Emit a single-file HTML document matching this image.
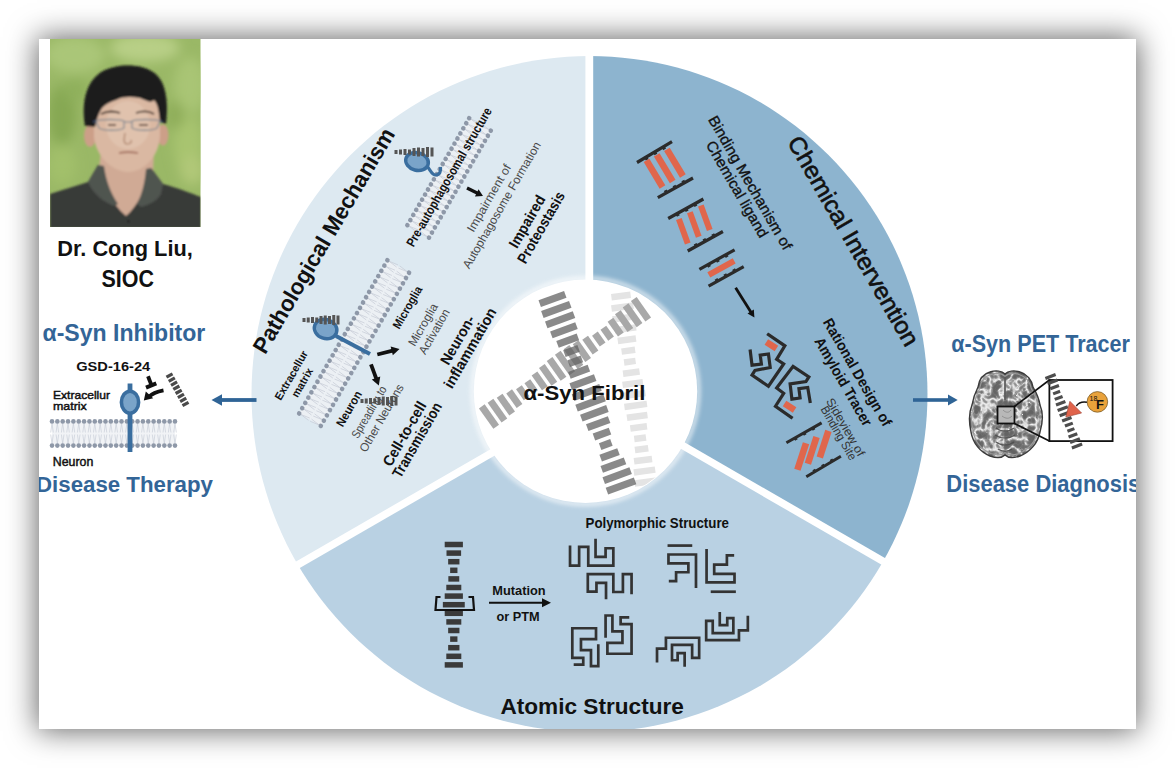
<!DOCTYPE html>
<html><head><meta charset="utf-8">
<style>
html,body{margin:0;padding:0;background:#fff;width:1175px;height:768px;overflow:hidden;}
#card{position:absolute;left:39px;top:39px;width:1097px;height:690px;background:#fff;box-shadow:0 0 28px 2px rgba(0,0,0,0.6);}
svg{position:absolute;left:0;top:0;}
text{font-family:"Liberation Sans",sans-serif;}
</style></head><body>
<div id="card"></div>
<svg width="1175" height="768" viewBox="0 0 1175 768">
<defs>
<clipPath id="cardclip"><rect x="39" y="39" width="1097" height="690"/></clipPath>
<clipPath id="phclip"><rect x="50" y="39" width="150.5" height="188"/></clipPath>
<clipPath id="innerclip"><circle cx="585.5" cy="391.3" r="111"/></clipPath>
<filter id="bok" x="-50%" y="-50%" width="200%" height="200%"><feGaussianBlur stdDeviation="6"/></filter>
<filter id="soft" x="-10%" y="-10%" width="120%" height="120%"><feGaussianBlur stdDeviation="0.9"/></filter>
<filter id="halo" x="-20%" y="-20%" width="140%" height="140%"><feGaussianBlur stdDeviation="2"/></filter>
<filter id="bsoft" x="-10%" y="-10%" width="120%" height="120%"><feGaussianBlur stdDeviation="0.5"/></filter>
<marker id="ahb" viewBox="0 0 10 10" refX="5" refY="5" markerWidth="4" markerHeight="4" orient="auto"><path d="M0,0 L10,5 L0,10 z" fill="#111"/></marker>
</defs>
<g clip-path="url(#cardclip)">
<g id="wheel">
<path d="M589.5,394 L296.8,563 A338,338 0 0 1 589.5,56 Z" fill="#dde9f1"/>
<path d="M589.5,394 L589.5,56 A338,338 0 0 1 882.2,563 Z" fill="#8db4cf"/>
<path d="M589.5,394 L882.2,563 A338,338 0 0 1 296.8,563 Z" fill="#b9d1e3"/>
<line x1="589.3" y1="394" x2="589.3" y2="40" stroke="#fff" stroke-width="7.8"/>
<line x1="593.6" y1="394.1" x2="906" y2="574.5" stroke="#fff" stroke-width="7.5"/>
<line x1="593.6" y1="394.1" x2="281" y2="574.5" stroke="#fff" stroke-width="7.5"/>
<circle cx="585.5" cy="391.3" r="113" fill="none" stroke="#fff" stroke-width="4" opacity="0.7" filter="url(#halo)"/>
<circle cx="585.5" cy="391.3" r="111.7" fill="#fff"/>
</g>
<g id="photo">
<g clip-path="url(#phclip)">
<rect x="50" y="39" width="151" height="188" fill="#9ab866"/>
<g filter="url(#bok)">
<ellipse cx="75" cy="55" rx="30" ry="18" fill="#aac678"/>
<ellipse cx="145" cy="48" rx="35" ry="14" fill="#b8cf86"/>
<ellipse cx="190" cy="85" rx="16" ry="28" fill="#a9c574"/>
<ellipse cx="62" cy="115" rx="14" ry="30" fill="#86a853"/>
<ellipse cx="188" cy="145" rx="14" ry="30" fill="#a8c470"/>
<ellipse cx="62" cy="165" rx="14" ry="20" fill="#a2c06a"/>
<ellipse cx="192" cy="170" rx="12" ry="15" fill="#b1c878"/>
<ellipse cx="75" cy="90" rx="12" ry="12" fill="#8fb05b"/>
<ellipse cx="175" cy="115" rx="10" ry="14" fill="#8fae5a"/>
</g>
<g filter="url(#soft)">
<!-- neck -->
<path d="M101,150 L154,150 L153,175 C148,195 136,214 126,219 C114,207 104,192 99,170 Z" fill="#d0aa95"/>
<!-- shirt -->
<path d="M50,194 C62,190 76,186 88,182 L98,165 C102,185 112,204 126,216 C138,206 146,188 151,168 L163,184 C178,188 190,193 201,197 L201,228 L50,228 Z" fill="#383a38"/>
<!-- collar -->
<path d="M98,165 L104,166 C106,180 110,192 118,204 L114,206 C106,203 98,198 91,188 L88,182 Z" fill="#505450"/>
<path d="M151,168 L146,169 C145,182 142,194 137,204 L141,207 C150,205 158,200 161,194 L163,184 Z" fill="#505450"/>
<circle cx="128.4" cy="221.3" r="1.3" fill="#222"/>
<!-- ears -->
<ellipse cx="90" cy="136" rx="6" ry="11" fill="#cc9f88"/>
<ellipse cx="163" cy="135" rx="5.5" ry="10.5" fill="#cc9f88"/>
<!-- face -->
<path d="M94,104 C94,90 110,86 128,86 C146,86 160,92 160,108 L160,136 C159,155 146,171 128,172 C111,171 96,156 94,137 Z" fill="#dab8a2"/>
<ellipse cx="128" cy="125" rx="22" ry="24" fill="#e3c6b2" opacity="0.7"/>
<!-- hair -->
<path d="M85,126 C81,100 87,80 103,71 C116,64 140,63 153,72 C165,80 169,98 166,124 L160,122 C159,112 158,104 154,100 C150,104 146,100 140,98 C132,97 124,96 116,100 C110,102 106,104 102,108 C99,113 97,118 95,127 Z" fill="#1c1c1c"/>
<!-- eyebrows -->
<path d="M101,114 C107,111 114,111 120,113" stroke="#3a2c24" stroke-width="1.8" fill="none"/>
<path d="M136,113 C142,111 149,111 154,114" stroke="#3a2c24" stroke-width="1.8" fill="none"/>
<!-- glasses -->
<path d="M96,121 C100,119 120,119 124,121 L124,128 C120,131 103,131 99,128 Z" fill="none" stroke="#888c92" stroke-width="1.3"/>
<path d="M132,121 C136,119 156,119 160,121 L157,128 C153,131 136,131 132,128 Z" fill="none" stroke="#888c92" stroke-width="1.3"/>
<path d="M124,122 L132,122" stroke="#888c92" stroke-width="1.2"/>
<path d="M93,122 L96,121 M160,121 L163,122" stroke="#3c4a6a" stroke-width="1.6"/>
<path d="M108,125 L116,125 M139,125 L148,125" stroke="#4a3528" stroke-width="1.5"/>
<!-- nose mouth -->
<path d="M125,133 C124,140 123,143 127,144 C130,144 132,143 131,140" stroke="#a97e66" stroke-width="1.2" fill="none"/>
<path d="M119,153 C124,152 132,152 138,153" stroke="#a06a5a" stroke-width="1.7" fill="none"/>
</g>
</g>
</g>
<g clip-path="url(#innerclip)"><g fill="#e4e4e4" opacity="1.0" ><rect x="-3.25" y="-9.68" width="6.5" height="19.35" transform="translate(621 296) rotate(82.34)"/><rect x="-3.25" y="-11.09" width="6.5" height="22.18" transform="translate(622.47 306.94) rotate(82.34)"/><rect x="-3.25" y="-11.49" width="6.5" height="22.98" transform="translate(623.94 317.88) rotate(82.34)"/><rect x="-3.25" y="-10.81" width="6.5" height="21.63" transform="translate(625.41 328.82) rotate(82.34)"/><rect x="-3.25" y="-9.17" width="6.5" height="18.34" transform="translate(626.88 339.76) rotate(82.34)"/><rect x="-3.25" y="-6.83" width="6.5" height="13.66" transform="translate(628.35 350.71) rotate(82.34)"/><rect x="-3.25" y="-5.81" width="6.5" height="11.62" transform="translate(629.82 361.65) rotate(82.34)"/><rect x="-3.25" y="-8.32" width="6.5" height="16.64" transform="translate(631.29 372.59) rotate(82.34)"/><rect x="-3.25" y="-10.27" width="6.5" height="20.55" transform="translate(632.76 383.53) rotate(82.34)"/><rect x="-3.25" y="-11.35" width="6.5" height="22.7" transform="translate(634.24 394.47) rotate(82.34)"/><rect x="-3.25" y="-11.37" width="6.5" height="22.75" transform="translate(635.71 405.41) rotate(82.34)"/><rect x="-3.25" y="-10.34" width="6.5" height="20.67" transform="translate(637.18 416.35) rotate(82.34)"/><rect x="-3.25" y="-8.41" width="6.5" height="16.82" transform="translate(638.65 427.29) rotate(82.34)"/><rect x="-3.25" y="-5.92" width="6.5" height="11.84" transform="translate(640.12 438.24) rotate(82.34)"/><rect x="-3.25" y="-6.73" width="6.5" height="13.45" transform="translate(641.59 449.18) rotate(82.34)"/><rect x="-3.25" y="-9.09" width="6.5" height="18.17" transform="translate(643.06 460.12) rotate(82.34)"/><rect x="-3.25" y="-10.76" width="6.5" height="21.53" transform="translate(644.53 471.06) rotate(82.34)"/><rect x="-3.25" y="-11.48" width="6.5" height="22.97" transform="translate(646 482) rotate(82.34)"/></g><g fill="#a8a8a8" opacity="1.0" ><rect x="-3.5" y="-12.5" width="7" height="25" transform="translate(489 416.6) rotate(-35.22)"/><rect x="-3.5" y="-12.08" width="7" height="24.16" transform="translate(497.44 410.64) rotate(-35.22)"/><rect x="-3.5" y="-10.86" width="7" height="21.72" transform="translate(505.89 404.68) rotate(-35.22)"/><rect x="-3.5" y="-9" width="7" height="18" transform="translate(514.33 398.72) rotate(-35.22)"/><rect x="-3.5" y="-6.72" width="7" height="13.43" transform="translate(522.78 392.76) rotate(-35.22)"/><rect x="-3.5" y="-6.72" width="7" height="13.43" transform="translate(531.22 386.79) rotate(-35.22)"/><rect x="-3.5" y="-9" width="7" height="18" transform="translate(539.67 380.83) rotate(-35.22)"/><rect x="-3.5" y="-10.86" width="7" height="21.72" transform="translate(548.11 374.87) rotate(-35.22)"/><rect x="-3.5" y="-12.08" width="7" height="24.16" transform="translate(556.56 368.91) rotate(-35.22)"/><rect x="-3.5" y="-12.5" width="7" height="25" transform="translate(565 362.95) rotate(-35.22)"/><rect x="-3.5" y="-12.08" width="7" height="24.16" transform="translate(573.44 356.99) rotate(-35.22)"/><rect x="-3.5" y="-10.86" width="7" height="21.72" transform="translate(581.89 351.03) rotate(-35.22)"/><rect x="-3.5" y="-9" width="7" height="18" transform="translate(590.33 345.07) rotate(-35.22)"/><rect x="-3.5" y="-6.72" width="7" height="13.43" transform="translate(598.78 339.11) rotate(-35.22)"/><rect x="-3.5" y="-6.72" width="7" height="13.43" transform="translate(607.22 333.14) rotate(-35.22)"/><rect x="-3.5" y="-9" width="7" height="18" transform="translate(615.67 327.18) rotate(-35.22)"/><rect x="-3.5" y="-10.86" width="7" height="21.72" transform="translate(624.11 321.22) rotate(-35.22)"/><rect x="-3.5" y="-12.08" width="7" height="24.16" transform="translate(632.56 315.26) rotate(-35.22)"/><rect x="-3.5" y="-12.5" width="7" height="25" transform="translate(641 309.3) rotate(-35.22)"/></g><g fill="#636363" opacity="0.75" ><rect x="-3.6" y="-13.62" width="7.2" height="27.23" transform="translate(552.5 299) rotate(69.88)"/><rect x="-3.6" y="-14.87" width="7.2" height="29.74" transform="translate(556.31 309.39) rotate(69.88)"/><rect x="-3.6" y="-14.79" width="7.2" height="29.57" transform="translate(560.11 319.78) rotate(69.88)"/><rect x="-3.6" y="-13.38" width="7.2" height="26.77" transform="translate(563.92 330.17) rotate(69.88)"/><rect x="-3.6" y="-10.86" width="7.2" height="21.72" transform="translate(567.72 340.56) rotate(69.88)"/><rect x="-3.6" y="-7.57" width="7.2" height="15.15" transform="translate(571.53 350.94) rotate(69.88)"/><rect x="-3.6" y="-7.01" width="7.2" height="14.01" transform="translate(575.33 361.33) rotate(69.88)"/><rect x="-3.6" y="-10.37" width="7.2" height="20.75" transform="translate(579.14 371.72) rotate(69.88)"/><rect x="-3.6" y="-13.05" width="7.2" height="26.1" transform="translate(582.94 382.11) rotate(69.88)"/><rect x="-3.6" y="-14.65" width="7.2" height="29.3" transform="translate(586.75 392.5) rotate(69.88)"/><rect x="-3.6" y="-14.95" width="7.2" height="29.89" transform="translate(590.56 402.89) rotate(69.88)"/><rect x="-3.6" y="-13.9" width="7.2" height="27.8" transform="translate(594.36 413.28) rotate(69.88)"/><rect x="-3.6" y="-11.66" width="7.2" height="23.32" transform="translate(598.17 423.67) rotate(69.88)"/><rect x="-3.6" y="-8.55" width="7.2" height="17.09" transform="translate(601.97 434.06) rotate(69.88)"/><rect x="-3.6" y="-6" width="7.2" height="12.01" transform="translate(605.78 444.44) rotate(69.88)"/><rect x="-3.6" y="-9.48" width="7.2" height="18.96" transform="translate(609.58 454.83) rotate(69.88)"/><rect x="-3.6" y="-12.39" width="7.2" height="24.79" transform="translate(613.39 465.22) rotate(69.88)"/><rect x="-3.6" y="-14.32" width="7.2" height="28.65" transform="translate(617.19 475.61) rotate(69.88)"/><rect x="-3.6" y="-15" width="7.2" height="30" transform="translate(621 486) rotate(69.88)"/></g></g><g transform="translate(113.5 433.5) rotate(0)"><rect x="-61.5" y="-12.1" width="123" height="24.2" fill="#eef1f5" opacity="0.85"/><path d="M-61.5,-10.1 L-62.8,-1 M-61.5,-10.1 L-60.2,-1 M-61.5,10.1 L-62.8,1 M-61.5,10.1 L-60.2,1 M-56.15,-10.1 L-57.45,-1 M-56.15,-10.1 L-54.85,-1 M-56.15,10.1 L-57.45,1 M-56.15,10.1 L-54.85,1 M-50.8,-10.1 L-52.1,-1 M-50.8,-10.1 L-49.5,-1 M-50.8,10.1 L-52.1,1 M-50.8,10.1 L-49.5,1 M-45.46,-10.1 L-46.76,-1 M-45.46,-10.1 L-44.16,-1 M-45.46,10.1 L-46.76,1 M-45.46,10.1 L-44.16,1 M-40.11,-10.1 L-41.41,-1 M-40.11,-10.1 L-38.81,-1 M-40.11,10.1 L-41.41,1 M-40.11,10.1 L-38.81,1 M-34.76,-10.1 L-36.06,-1 M-34.76,-10.1 L-33.46,-1 M-34.76,10.1 L-36.06,1 M-34.76,10.1 L-33.46,1 M-29.41,-10.1 L-30.71,-1 M-29.41,-10.1 L-28.11,-1 M-29.41,10.1 L-30.71,1 M-29.41,10.1 L-28.11,1 M-24.07,-10.1 L-25.37,-1 M-24.07,-10.1 L-22.77,-1 M-24.07,10.1 L-25.37,1 M-24.07,10.1 L-22.77,1 M-18.72,-10.1 L-20.02,-1 M-18.72,-10.1 L-17.42,-1 M-18.72,10.1 L-20.02,1 M-18.72,10.1 L-17.42,1 M-13.37,-10.1 L-14.67,-1 M-13.37,-10.1 L-12.07,-1 M-13.37,10.1 L-14.67,1 M-13.37,10.1 L-12.07,1 M-8.02,-10.1 L-9.32,-1 M-8.02,-10.1 L-6.72,-1 M-8.02,10.1 L-9.32,1 M-8.02,10.1 L-6.72,1 M-2.67,-10.1 L-3.97,-1 M-2.67,-10.1 L-1.37,-1 M-2.67,10.1 L-3.97,1 M-2.67,10.1 L-1.37,1 M2.67,-10.1 L1.37,-1 M2.67,-10.1 L3.97,-1 M2.67,10.1 L1.37,1 M2.67,10.1 L3.97,1 M8.02,-10.1 L6.72,-1 M8.02,-10.1 L9.32,-1 M8.02,10.1 L6.72,1 M8.02,10.1 L9.32,1 M13.37,-10.1 L12.07,-1 M13.37,-10.1 L14.67,-1 M13.37,10.1 L12.07,1 M13.37,10.1 L14.67,1 M18.72,-10.1 L17.42,-1 M18.72,-10.1 L20.02,-1 M18.72,10.1 L17.42,1 M18.72,10.1 L20.02,1 M24.07,-10.1 L22.77,-1 M24.07,-10.1 L25.37,-1 M24.07,10.1 L22.77,1 M24.07,10.1 L25.37,1 M29.41,-10.1 L28.11,-1 M29.41,-10.1 L30.71,-1 M29.41,10.1 L28.11,1 M29.41,10.1 L30.71,1 M34.76,-10.1 L33.46,-1 M34.76,-10.1 L36.06,-1 M34.76,10.1 L33.46,1 M34.76,10.1 L36.06,1 M40.11,-10.1 L38.81,-1 M40.11,-10.1 L41.41,-1 M40.11,10.1 L38.81,1 M40.11,10.1 L41.41,1 M45.46,-10.1 L44.16,-1 M45.46,-10.1 L46.76,-1 M45.46,10.1 L44.16,1 M45.46,10.1 L46.76,1 M50.8,-10.1 L49.5,-1 M50.8,-10.1 L52.1,-1 M50.8,10.1 L49.5,1 M50.8,10.1 L52.1,1 M56.15,-10.1 L54.85,-1 M56.15,-10.1 L57.45,-1 M56.15,10.1 L54.85,1 M56.15,10.1 L57.45,1 M61.5,-10.1 L60.2,-1 M61.5,-10.1 L62.8,-1 M61.5,10.1 L60.2,1 M61.5,10.1 L62.8,1" stroke="#c9ced8" stroke-width="0.7" fill="none"/><g fill="#8e98a8"><circle cx="-61.5" cy="-12.1" r="2.3"/><circle cx="-61.5" cy="12.1" r="2.3"/><circle cx="-56.15" cy="-12.1" r="2.3"/><circle cx="-56.15" cy="12.1" r="2.3"/><circle cx="-50.8" cy="-12.1" r="2.3"/><circle cx="-50.8" cy="12.1" r="2.3"/><circle cx="-45.46" cy="-12.1" r="2.3"/><circle cx="-45.46" cy="12.1" r="2.3"/><circle cx="-40.11" cy="-12.1" r="2.3"/><circle cx="-40.11" cy="12.1" r="2.3"/><circle cx="-34.76" cy="-12.1" r="2.3"/><circle cx="-34.76" cy="12.1" r="2.3"/><circle cx="-29.41" cy="-12.1" r="2.3"/><circle cx="-29.41" cy="12.1" r="2.3"/><circle cx="-24.07" cy="-12.1" r="2.3"/><circle cx="-24.07" cy="12.1" r="2.3"/><circle cx="-18.72" cy="-12.1" r="2.3"/><circle cx="-18.72" cy="12.1" r="2.3"/><circle cx="-13.37" cy="-12.1" r="2.3"/><circle cx="-13.37" cy="12.1" r="2.3"/><circle cx="-8.02" cy="-12.1" r="2.3"/><circle cx="-8.02" cy="12.1" r="2.3"/><circle cx="-2.67" cy="-12.1" r="2.3"/><circle cx="-2.67" cy="12.1" r="2.3"/><circle cx="2.67" cy="-12.1" r="2.3"/><circle cx="2.67" cy="12.1" r="2.3"/><circle cx="8.02" cy="-12.1" r="2.3"/><circle cx="8.02" cy="12.1" r="2.3"/><circle cx="13.37" cy="-12.1" r="2.3"/><circle cx="13.37" cy="12.1" r="2.3"/><circle cx="18.72" cy="-12.1" r="2.3"/><circle cx="18.72" cy="12.1" r="2.3"/><circle cx="24.07" cy="-12.1" r="2.3"/><circle cx="24.07" cy="12.1" r="2.3"/><circle cx="29.41" cy="-12.1" r="2.3"/><circle cx="29.41" cy="12.1" r="2.3"/><circle cx="34.76" cy="-12.1" r="2.3"/><circle cx="34.76" cy="12.1" r="2.3"/><circle cx="40.11" cy="-12.1" r="2.3"/><circle cx="40.11" cy="12.1" r="2.3"/><circle cx="45.46" cy="-12.1" r="2.3"/><circle cx="45.46" cy="12.1" r="2.3"/><circle cx="50.8" cy="-12.1" r="2.3"/><circle cx="50.8" cy="12.1" r="2.3"/><circle cx="56.15" cy="-12.1" r="2.3"/><circle cx="56.15" cy="12.1" r="2.3"/><circle cx="61.5" cy="-12.1" r="2.3"/><circle cx="61.5" cy="12.1" r="2.3"/></g></g><rect x="127.6" y="383.5" width="4.8" height="8" fill="#3a6e9f"/><rect x="127.6" y="412" width="4.8" height="40" fill="#3a6e9f"/><ellipse cx="130" cy="402.2" rx="8.6" ry="11" fill="#7aa4c9" stroke="#3a6e9f" stroke-width="3.6"/><path d="M148,376.3 L151.3,384.8" stroke="#111" stroke-width="3.8"/><path d="M146,387.6 L156.3,383.4" stroke="#111" stroke-width="4"/><path d="M163.5,390.3 C157,391.5 152,393.5 148.5,397" stroke="#111" stroke-width="3.8" fill="none"/><path d="M143.8,400.6 L145.8,391.5 L153.2,398.2 Z" fill="#111"/><g fill="#4a4a4a" opacity="1.0" ><rect x="-1.6" y="-3.5" width="3.2" height="7" transform="translate(169.5 375.5) rotate(60.69)"/><rect x="-1.6" y="-3.5" width="3.2" height="7" transform="translate(171.79 379.57) rotate(60.69)"/><rect x="-1.6" y="-3.5" width="3.2" height="7" transform="translate(174.07 383.64) rotate(60.69)"/><rect x="-1.6" y="-3.5" width="3.2" height="7" transform="translate(176.36 387.71) rotate(60.69)"/><rect x="-1.6" y="-3.5" width="3.2" height="7" transform="translate(178.64 391.79) rotate(60.69)"/><rect x="-1.6" y="-3.5" width="3.2" height="7" transform="translate(180.93 395.86) rotate(60.69)"/><rect x="-1.6" y="-3.5" width="3.2" height="7" transform="translate(183.21 399.93) rotate(60.69)"/><rect x="-1.6" y="-3.5" width="3.2" height="7" transform="translate(185.5 404) rotate(60.69)"/></g><rect x="220" y="398.1" width="36.5" height="3.8" fill="#2f6496"/><path d="M211.5,400 L222,394.2 L222,405.8 Z" fill="#2f6496"/><rect x="913" y="398.2" width="37" height="3.6" fill="#2f6496"/><path d="M957.7,400 L948,394.4 L948,405.6 Z" fill="#2f6496"/><g id="brain">
<filter id="gyri" x="0" y="0" width="100%" height="100%" color-interpolation-filters="sRGB"><feTurbulence type="turbulence" baseFrequency="0.11 0.1" numOctaves="2" seed="11"/><feColorMatrix type="matrix" values="1.8 0 0 0 0  1.8 0 0 0 0  1.8 0 0 0 0  0 0 0 0 1"/><feComponentTransfer><feFuncR type="table" tableValues="0.95 0.84 0.6 0.46 0.41 0.39"/><feFuncG type="table" tableValues="0.95 0.84 0.6 0.46 0.41 0.39"/><feFuncB type="table" tableValues="0.95 0.84 0.6 0.46 0.41 0.39"/></feComponentTransfer><feGaussianBlur stdDeviation="0.3"/></filter>
<clipPath id="brainclip"><path id="brainpath" d="M1005,374 C1002,371 996,370 990,372 C983,374 979,380 978,387 C975,393 973,399 972,405 C969,412 969,423 971,432 C973,443 980,452 990,456 C996,458 1002,458 1005,455 C1008,458 1014,458 1020,456 C1030,452 1038,443 1040,432 C1043,422 1043,412 1040,405 C1039,398 1036,392 1033,387 C1032,380 1027,374 1020,372 C1014,370 1008,371 1005,374 Z"/></clipPath>
<g clip-path="url(#brainclip)">
<rect x="965" y="366" width="82" height="96" fill="#8a8a8a" filter="url(#gyri)"/>
<path d="M1005,372 L1005,400" stroke="#555" stroke-width="1.6"/>
<path d="M1005,372 L1005,458" stroke="#666" stroke-width="0.8"/>
<g fill="none" stroke="#4e4e4e" stroke-width="1.2" opacity="0.9">
<path d="M996,428 C1001,432 1009,432 1014,428 M995,435 C1001,439 1009,439 1015,435 M996,442 C1001,446 1009,446 1014,442 M998,449 C1002,452 1008,452 1012,449"/>
</g>
</g>
<use href="#brainpath" fill="none" stroke="#3a3a3a" stroke-width="1.4"/>
<path d="M1005,374 C1002,371 996,370 990,372 C983,374 979,380 978,387 C975,393 973,399 972,405 C969,412 969,423 971,432 C973,443 980,452 990,456 C996,458 1002,458 1005,455 C1008,458 1014,458 1020,456 C1030,452 1038,443 1040,432 C1043,422 1043,412 1040,405 C1039,398 1036,392 1033,387 C1032,380 1027,374 1020,372 C1014,370 1008,371 1005,374 Z" fill="none" stroke="#9a9a9a" stroke-width="1.2" transform="translate(1005 414) scale(0.94) translate(-1005 -414)"/>
<rect x="997.5" y="406.5" width="17" height="17" fill="#b8b8b8" stroke="#111" stroke-width="1.8"/>
<path d="M1003,410 C1006,413 1009,413 1011,410 M1002,416 C1006,419 1009,419 1012,416" stroke="#888" stroke-width="0.8" fill="none"/>
</g><path d="M1014.5,406.5 L1049.4,380 M1014.5,423.5 L1049.4,441" stroke="#111" stroke-width="1.6"/><rect x="1049.4" y="380" width="63.2" height="61.1" fill="#fff" stroke="#111" stroke-width="1.8"/><g fill="#4d4d4d" opacity="1.0" ><rect x="-1.6" y="-5.5" width="3.2" height="11" transform="translate(1050.5 376.5) rotate(69.13)"/><rect x="-1.6" y="-5.27" width="3.2" height="10.54" transform="translate(1052.54 381.85) rotate(69.13)"/><rect x="-1.6" y="-4.64" width="3.2" height="9.27" transform="translate(1054.58 387.19) rotate(69.13)"/><rect x="-1.6" y="-3.74" width="3.2" height="7.48" transform="translate(1056.62 392.54) rotate(69.13)"/><rect x="-1.6" y="-4.21" width="3.2" height="8.42" transform="translate(1058.65 397.88) rotate(69.13)"/><rect x="-1.6" y="-5" width="3.2" height="9.99" transform="translate(1060.69 403.23) rotate(69.13)"/><rect x="-1.6" y="-5.44" width="3.2" height="10.88" transform="translate(1062.73 408.58) rotate(69.13)"/><rect x="-1.6" y="-5.44" width="3.2" height="10.88" transform="translate(1064.77 413.92) rotate(69.13)"/><rect x="-1.6" y="-5" width="3.2" height="9.99" transform="translate(1066.81 419.27) rotate(69.13)"/><rect x="-1.6" y="-4.21" width="3.2" height="8.42" transform="translate(1068.85 424.62) rotate(69.13)"/><rect x="-1.6" y="-3.74" width="3.2" height="7.48" transform="translate(1070.88 429.96) rotate(69.13)"/><rect x="-1.6" y="-4.64" width="3.2" height="9.27" transform="translate(1072.92 435.31) rotate(69.13)"/><rect x="-1.6" y="-5.27" width="3.2" height="10.54" transform="translate(1074.96 440.65) rotate(69.13)"/><rect x="-1.6" y="-5.5" width="3.2" height="11" transform="translate(1077 446) rotate(69.13)"/></g><path d="M1076.3,406 C1079,402 1083,401.5 1087,402.2" stroke="#111" stroke-width="1.4" fill="none"/><path d="M1069.9,401.3 L1081.6,413 L1065.8,417.1 Z" fill="#e0634b" stroke="#9a4030" stroke-width="0.6"/><circle cx="1097.4" cy="401.9" r="10.3" fill="#e9a23b" stroke="#6d5020" stroke-width="0.7"/><text x="1089.5" y="401" font-size="7" fill="#111">18</text><text x="1096" y="408.5" font-size="13" font-weight="bold" fill="#111">F</text><rect x="444.7" y="541.75" width="18.2" height="5.5" fill="#3a3a3a"/><rect x="446.5" y="550.35" width="14.6" height="5.5" fill="#3a3a3a"/><rect x="448.15" y="558.95" width="11.3" height="5.5" fill="#3a3a3a"/><rect x="450.15" y="567.55" width="7.3" height="5.5" fill="#3a3a3a"/><rect x="448.35" y="576.15" width="10.9" height="5.5" fill="#3a3a3a"/><rect x="446.3" y="584.75" width="15" height="5.5" fill="#3a3a3a"/><rect x="444.7" y="593.35" width="18.2" height="5.5" fill="#3a3a3a"/><rect x="442.85" y="601.95" width="21.9" height="5.5" fill="#3a3a3a"/><rect x="444.7" y="610.55" width="18.2" height="5.5" fill="#3a3a3a"/><rect x="446.3" y="619.15" width="15" height="5.5" fill="#3a3a3a"/><rect x="448.15" y="627.75" width="11.3" height="5.5" fill="#3a3a3a"/><rect x="450.15" y="636.35" width="7.3" height="5.5" fill="#3a3a3a"/><rect x="448.15" y="644.95" width="11.3" height="5.5" fill="#3a3a3a"/><rect x="446.3" y="653.55" width="15" height="5.5" fill="#3a3a3a"/><rect x="444.7" y="662.15" width="18.2" height="5.5" fill="#3a3a3a"/><polyline points="440.5,597 436.5,597 435.5,610 474,610 473,597 468.5,597" fill="none" stroke="#111" stroke-width="2.2"/><path d="M489,602.8 L543,602.8" stroke="#111" stroke-width="2"/><path d="M551,602.8 L542,598.3 L542,607.3 Z" fill="#111"/><polyline points="570.03,546.86 570.03,565.55 579.14,565.55 579.14,546.86 588.26,546.86 588.26,565.55 613.33,565.55 613.33,548.23 605.58,548.23 605.58,556.89 595.55,556.89 595.55,540.03" fill="none" stroke="#333" stroke-width="2.7" stroke-linejoin="miter" stroke-linecap="square"/><polyline points="606.03,597.91 606.03,582.87 596.46,582.87 596.46,591.53 587.8,591.53 587.8,574.21 613.33,574.21 613.33,591.99 622.9,591.99 622.9,574.21 631.56,574.21 631.56,592.9" fill="none" stroke="#333" stroke-width="2.7" stroke-linejoin="miter" stroke-linecap="square"/><polyline points="668.89,545.58 690.91,545.58" fill="none" stroke="#333" stroke-width="2.7" stroke-linejoin="miter" stroke-linecap="square"/><polyline points="695.99,586.65 695.99,554.48 668.47,554.48 668.47,563.37 688.37,563.37 688.37,572.26 676.09,572.26 676.09,581.15 670.16,581.15" fill="none" stroke="#333" stroke-width="2.7" stroke-linejoin="miter" stroke-linecap="square"/><polyline points="706.57,550.24 706.57,582.42 734.51,582.42 734.51,573.95 714.19,573.95 714.19,564.64 726.89,564.64 726.89,555.32 732.82,555.32" fill="none" stroke="#333" stroke-width="2.7" stroke-linejoin="miter" stroke-linecap="square"/><polyline points="712.07,591.73 734.51,591.73" fill="none" stroke="#333" stroke-width="2.7" stroke-linejoin="miter" stroke-linecap="square"/><polyline points="575.04,664.71 583.25,664.71 583.25,657.87 572.31,657.87 572.31,628.25 596.01,628.25 596.01,639.18 580.97,639.18 580.97,650.12 590.99,650.12 590.99,666.08 598.29,666.08 598.29,645.57" fill="none" stroke="#333" stroke-width="2.7" stroke-linejoin="miter" stroke-linecap="square"/><polyline points="605.58,636.45 605.58,615.48 612.42,615.48 612.42,631.44 622.44,631.44 622.44,642.83 607.4,642.83 607.4,653.77 631.56,653.77 631.56,624.14 620.62,624.14 620.62,617.31 627.91,617.31" fill="none" stroke="#333" stroke-width="2.7" stroke-linejoin="miter" stroke-linecap="square"/><polyline points="657.02,661.18 657.02,648.54 665.92,648.54 665.92,637.77 699.16,637.77 699.16,657.9 692.13,657.9 692.13,644.79 672,644.79 672,660.24 677.62,660.24 677.62,653.22 684.64,653.22 684.64,665.39" fill="none" stroke="#333" stroke-width="2.7" stroke-linejoin="miter" stroke-linecap="square"/><polyline points="719.76,613.43 719.76,625.13 727.25,625.13 727.25,618.11 733.33,618.11 733.33,633.09 712.73,633.09 712.73,620.92 706.18,620.92 706.18,640.11 738.95,640.11 738.95,630.28 747.85,630.28 747.85,617.17" fill="none" stroke="#333" stroke-width="2.7" stroke-linejoin="miter" stroke-linecap="square"/><g transform="translate(449.1 177.9) rotate(-59.99)"><rect x="-61.78" y="-12.5" width="123.56" height="25" fill="#eef1f5" opacity="0.85"/><path d="M-61.78,-10.5 L-63.08,-1 M-61.78,-10.5 L-60.48,-1 M-61.78,10.5 L-63.08,1 M-61.78,10.5 L-60.48,1 M-55.9,-10.5 L-57.2,-1 M-55.9,-10.5 L-54.6,-1 M-55.9,10.5 L-57.2,1 M-55.9,10.5 L-54.6,1 M-50.01,-10.5 L-51.31,-1 M-50.01,-10.5 L-48.71,-1 M-50.01,10.5 L-51.31,1 M-50.01,10.5 L-48.71,1 M-44.13,-10.5 L-45.43,-1 M-44.13,-10.5 L-42.83,-1 M-44.13,10.5 L-45.43,1 M-44.13,10.5 L-42.83,1 M-38.25,-10.5 L-39.55,-1 M-38.25,-10.5 L-36.95,-1 M-38.25,10.5 L-39.55,1 M-38.25,10.5 L-36.95,1 M-32.36,-10.5 L-33.66,-1 M-32.36,-10.5 L-31.06,-1 M-32.36,10.5 L-33.66,1 M-32.36,10.5 L-31.06,1 M-26.48,-10.5 L-27.78,-1 M-26.48,-10.5 L-25.18,-1 M-26.48,10.5 L-27.78,1 M-26.48,10.5 L-25.18,1 M-20.59,-10.5 L-21.89,-1 M-20.59,-10.5 L-19.29,-1 M-20.59,10.5 L-21.89,1 M-20.59,10.5 L-19.29,1 M-14.71,-10.5 L-16.01,-1 M-14.71,-10.5 L-13.41,-1 M-14.71,10.5 L-16.01,1 M-14.71,10.5 L-13.41,1 M-8.83,-10.5 L-10.13,-1 M-8.83,-10.5 L-7.53,-1 M-8.83,10.5 L-10.13,1 M-8.83,10.5 L-7.53,1 M-2.94,-10.5 L-4.24,-1 M-2.94,-10.5 L-1.64,-1 M-2.94,10.5 L-4.24,1 M-2.94,10.5 L-1.64,1 M2.94,-10.5 L1.64,-1 M2.94,-10.5 L4.24,-1 M2.94,10.5 L1.64,1 M2.94,10.5 L4.24,1 M8.83,-10.5 L7.53,-1 M8.83,-10.5 L10.13,-1 M8.83,10.5 L7.53,1 M8.83,10.5 L10.13,1 M14.71,-10.5 L13.41,-1 M14.71,-10.5 L16.01,-1 M14.71,10.5 L13.41,1 M14.71,10.5 L16.01,1 M20.59,-10.5 L19.29,-1 M20.59,-10.5 L21.89,-1 M20.59,10.5 L19.29,1 M20.59,10.5 L21.89,1 M26.48,-10.5 L25.18,-1 M26.48,-10.5 L27.78,-1 M26.48,10.5 L25.18,1 M26.48,10.5 L27.78,1 M32.36,-10.5 L31.06,-1 M32.36,-10.5 L33.66,-1 M32.36,10.5 L31.06,1 M32.36,10.5 L33.66,1 M38.25,-10.5 L36.95,-1 M38.25,-10.5 L39.55,-1 M38.25,10.5 L36.95,1 M38.25,10.5 L39.55,1 M44.13,-10.5 L42.83,-1 M44.13,-10.5 L45.43,-1 M44.13,10.5 L42.83,1 M44.13,10.5 L45.43,1 M50.01,-10.5 L48.71,-1 M50.01,-10.5 L51.31,-1 M50.01,10.5 L48.71,1 M50.01,10.5 L51.31,1 M55.9,-10.5 L54.6,-1 M55.9,-10.5 L57.2,-1 M55.9,10.5 L54.6,1 M55.9,10.5 L57.2,1 M61.78,-10.5 L60.48,-1 M61.78,-10.5 L63.08,-1 M61.78,10.5 L60.48,1 M61.78,10.5 L63.08,1" stroke="#c9ced8" stroke-width="0.7" fill="none"/><g fill="#8e98a8"><circle cx="-61.78" cy="-12.5" r="2.3"/><circle cx="-61.78" cy="12.5" r="2.3"/><circle cx="-55.9" cy="-12.5" r="2.3"/><circle cx="-55.9" cy="12.5" r="2.3"/><circle cx="-50.01" cy="-12.5" r="2.3"/><circle cx="-50.01" cy="12.5" r="2.3"/><circle cx="-44.13" cy="-12.5" r="2.3"/><circle cx="-44.13" cy="12.5" r="2.3"/><circle cx="-38.25" cy="-12.5" r="2.3"/><circle cx="-38.25" cy="12.5" r="2.3"/><circle cx="-32.36" cy="-12.5" r="2.3"/><circle cx="-32.36" cy="12.5" r="2.3"/><circle cx="-26.48" cy="-12.5" r="2.3"/><circle cx="-26.48" cy="12.5" r="2.3"/><circle cx="-20.59" cy="-12.5" r="2.3"/><circle cx="-20.59" cy="12.5" r="2.3"/><circle cx="-14.71" cy="-12.5" r="2.3"/><circle cx="-14.71" cy="12.5" r="2.3"/><circle cx="-8.83" cy="-12.5" r="2.3"/><circle cx="-8.83" cy="12.5" r="2.3"/><circle cx="-2.94" cy="-12.5" r="2.3"/><circle cx="-2.94" cy="12.5" r="2.3"/><circle cx="2.94" cy="-12.5" r="2.3"/><circle cx="2.94" cy="12.5" r="2.3"/><circle cx="8.83" cy="-12.5" r="2.3"/><circle cx="8.83" cy="12.5" r="2.3"/><circle cx="14.71" cy="-12.5" r="2.3"/><circle cx="14.71" cy="12.5" r="2.3"/><circle cx="20.59" cy="-12.5" r="2.3"/><circle cx="20.59" cy="12.5" r="2.3"/><circle cx="26.48" cy="-12.5" r="2.3"/><circle cx="26.48" cy="12.5" r="2.3"/><circle cx="32.36" cy="-12.5" r="2.3"/><circle cx="32.36" cy="12.5" r="2.3"/><circle cx="38.25" cy="-12.5" r="2.3"/><circle cx="38.25" cy="12.5" r="2.3"/><circle cx="44.13" cy="-12.5" r="2.3"/><circle cx="44.13" cy="12.5" r="2.3"/><circle cx="50.01" cy="-12.5" r="2.3"/><circle cx="50.01" cy="12.5" r="2.3"/><circle cx="55.9" cy="-12.5" r="2.3"/><circle cx="55.9" cy="12.5" r="2.3"/><circle cx="61.78" cy="-12.5" r="2.3"/><circle cx="61.78" cy="12.5" r="2.3"/></g></g><g transform="translate(354.1 343.1) rotate(-60.07)"><rect x="-88.39" y="-12.5" width="176.78" height="25" fill="#eef1f5" opacity="0.85"/><path d="M-88.39,-10.5 L-89.69,-1 M-88.39,-10.5 L-87.09,-1 M-88.39,10.5 L-89.69,1 M-88.39,10.5 L-87.09,1 M-82.29,-10.5 L-83.59,-1 M-82.29,-10.5 L-80.99,-1 M-82.29,10.5 L-83.59,1 M-82.29,10.5 L-80.99,1 M-76.2,-10.5 L-77.5,-1 M-76.2,-10.5 L-74.9,-1 M-76.2,10.5 L-77.5,1 M-76.2,10.5 L-74.9,1 M-70.1,-10.5 L-71.4,-1 M-70.1,-10.5 L-68.8,-1 M-70.1,10.5 L-71.4,1 M-70.1,10.5 L-68.8,1 M-64,-10.5 L-65.3,-1 M-64,-10.5 L-62.7,-1 M-64,10.5 L-65.3,1 M-64,10.5 L-62.7,1 M-57.91,-10.5 L-59.21,-1 M-57.91,-10.5 L-56.61,-1 M-57.91,10.5 L-59.21,1 M-57.91,10.5 L-56.61,1 M-51.81,-10.5 L-53.11,-1 M-51.81,-10.5 L-50.51,-1 M-51.81,10.5 L-53.11,1 M-51.81,10.5 L-50.51,1 M-45.72,-10.5 L-47.02,-1 M-45.72,-10.5 L-44.42,-1 M-45.72,10.5 L-47.02,1 M-45.72,10.5 L-44.42,1 M-39.62,-10.5 L-40.92,-1 M-39.62,-10.5 L-38.32,-1 M-39.62,10.5 L-40.92,1 M-39.62,10.5 L-38.32,1 M-33.53,-10.5 L-34.83,-1 M-33.53,-10.5 L-32.23,-1 M-33.53,10.5 L-34.83,1 M-33.53,10.5 L-32.23,1 M-27.43,-10.5 L-28.73,-1 M-27.43,-10.5 L-26.13,-1 M-27.43,10.5 L-28.73,1 M-27.43,10.5 L-26.13,1 M-21.33,-10.5 L-22.63,-1 M-21.33,-10.5 L-20.03,-1 M-21.33,10.5 L-22.63,1 M-21.33,10.5 L-20.03,1 M-15.24,-10.5 L-16.54,-1 M-15.24,-10.5 L-13.94,-1 M-15.24,10.5 L-16.54,1 M-15.24,10.5 L-13.94,1 M-9.14,-10.5 L-10.44,-1 M-9.14,-10.5 L-7.84,-1 M-9.14,10.5 L-10.44,1 M-9.14,10.5 L-7.84,1 M-3.05,-10.5 L-4.35,-1 M-3.05,-10.5 L-1.75,-1 M-3.05,10.5 L-4.35,1 M-3.05,10.5 L-1.75,1 M3.05,-10.5 L1.75,-1 M3.05,-10.5 L4.35,-1 M3.05,10.5 L1.75,1 M3.05,10.5 L4.35,1 M9.14,-10.5 L7.84,-1 M9.14,-10.5 L10.44,-1 M9.14,10.5 L7.84,1 M9.14,10.5 L10.44,1 M15.24,-10.5 L13.94,-1 M15.24,-10.5 L16.54,-1 M15.24,10.5 L13.94,1 M15.24,10.5 L16.54,1 M21.33,-10.5 L20.03,-1 M21.33,-10.5 L22.63,-1 M21.33,10.5 L20.03,1 M21.33,10.5 L22.63,1 M27.43,-10.5 L26.13,-1 M27.43,-10.5 L28.73,-1 M27.43,10.5 L26.13,1 M27.43,10.5 L28.73,1 M33.53,-10.5 L32.23,-1 M33.53,-10.5 L34.83,-1 M33.53,10.5 L32.23,1 M33.53,10.5 L34.83,1 M39.62,-10.5 L38.32,-1 M39.62,-10.5 L40.92,-1 M39.62,10.5 L38.32,1 M39.62,10.5 L40.92,1 M45.72,-10.5 L44.42,-1 M45.72,-10.5 L47.02,-1 M45.72,10.5 L44.42,1 M45.72,10.5 L47.02,1 M51.81,-10.5 L50.51,-1 M51.81,-10.5 L53.11,-1 M51.81,10.5 L50.51,1 M51.81,10.5 L53.11,1 M57.91,-10.5 L56.61,-1 M57.91,-10.5 L59.21,-1 M57.91,10.5 L56.61,1 M57.91,10.5 L59.21,1 M64,-10.5 L62.7,-1 M64,-10.5 L65.3,-1 M64,10.5 L62.7,1 M64,10.5 L65.3,1 M70.1,-10.5 L68.8,-1 M70.1,-10.5 L71.4,-1 M70.1,10.5 L68.8,1 M70.1,10.5 L71.4,1 M76.2,-10.5 L74.9,-1 M76.2,-10.5 L77.5,-1 M76.2,10.5 L74.9,1 M76.2,10.5 L77.5,1 M82.29,-10.5 L80.99,-1 M82.29,-10.5 L83.59,-1 M82.29,10.5 L80.99,1 M82.29,10.5 L83.59,1 M88.39,-10.5 L87.09,-1 M88.39,-10.5 L89.69,-1 M88.39,10.5 L87.09,1 M88.39,10.5 L89.69,1" stroke="#c9ced8" stroke-width="0.7" fill="none"/><g fill="#8e98a8"><circle cx="-88.39" cy="-12.5" r="2.3"/><circle cx="-88.39" cy="12.5" r="2.3"/><circle cx="-82.29" cy="-12.5" r="2.3"/><circle cx="-82.29" cy="12.5" r="2.3"/><circle cx="-76.2" cy="-12.5" r="2.3"/><circle cx="-76.2" cy="12.5" r="2.3"/><circle cx="-70.1" cy="-12.5" r="2.3"/><circle cx="-70.1" cy="12.5" r="2.3"/><circle cx="-64" cy="-12.5" r="2.3"/><circle cx="-64" cy="12.5" r="2.3"/><circle cx="-57.91" cy="-12.5" r="2.3"/><circle cx="-57.91" cy="12.5" r="2.3"/><circle cx="-51.81" cy="-12.5" r="2.3"/><circle cx="-51.81" cy="12.5" r="2.3"/><circle cx="-45.72" cy="-12.5" r="2.3"/><circle cx="-45.72" cy="12.5" r="2.3"/><circle cx="-39.62" cy="-12.5" r="2.3"/><circle cx="-39.62" cy="12.5" r="2.3"/><circle cx="-33.53" cy="-12.5" r="2.3"/><circle cx="-33.53" cy="12.5" r="2.3"/><circle cx="-27.43" cy="-12.5" r="2.3"/><circle cx="-27.43" cy="12.5" r="2.3"/><circle cx="-21.33" cy="-12.5" r="2.3"/><circle cx="-21.33" cy="12.5" r="2.3"/><circle cx="-15.24" cy="-12.5" r="2.3"/><circle cx="-15.24" cy="12.5" r="2.3"/><circle cx="-9.14" cy="-12.5" r="2.3"/><circle cx="-9.14" cy="12.5" r="2.3"/><circle cx="-3.05" cy="-12.5" r="2.3"/><circle cx="-3.05" cy="12.5" r="2.3"/><circle cx="3.05" cy="-12.5" r="2.3"/><circle cx="3.05" cy="12.5" r="2.3"/><circle cx="9.14" cy="-12.5" r="2.3"/><circle cx="9.14" cy="12.5" r="2.3"/><circle cx="15.24" cy="-12.5" r="2.3"/><circle cx="15.24" cy="12.5" r="2.3"/><circle cx="21.33" cy="-12.5" r="2.3"/><circle cx="21.33" cy="12.5" r="2.3"/><circle cx="27.43" cy="-12.5" r="2.3"/><circle cx="27.43" cy="12.5" r="2.3"/><circle cx="33.53" cy="-12.5" r="2.3"/><circle cx="33.53" cy="12.5" r="2.3"/><circle cx="39.62" cy="-12.5" r="2.3"/><circle cx="39.62" cy="12.5" r="2.3"/><circle cx="45.72" cy="-12.5" r="2.3"/><circle cx="45.72" cy="12.5" r="2.3"/><circle cx="51.81" cy="-12.5" r="2.3"/><circle cx="51.81" cy="12.5" r="2.3"/><circle cx="57.91" cy="-12.5" r="2.3"/><circle cx="57.91" cy="12.5" r="2.3"/><circle cx="64" cy="-12.5" r="2.3"/><circle cx="64" cy="12.5" r="2.3"/><circle cx="70.1" cy="-12.5" r="2.3"/><circle cx="70.1" cy="12.5" r="2.3"/><circle cx="76.2" cy="-12.5" r="2.3"/><circle cx="76.2" cy="12.5" r="2.3"/><circle cx="82.29" cy="-12.5" r="2.3"/><circle cx="82.29" cy="12.5" r="2.3"/><circle cx="88.39" cy="-12.5" r="2.3"/><circle cx="88.39" cy="12.5" r="2.3"/></g></g><path d="M336,336 L370,354" stroke="#3a6e9f" stroke-width="4.2"/><ellipse cx="325.6" cy="329" rx="11.5" ry="9.5" fill="#7aa4c9" stroke="#3a6e9f" stroke-width="3.4" transform="rotate(20 325.6 329)"/><g fill="#555"><rect x="302.5" y="318" width="3" height="4"/><rect x="306.75" y="317.5" width="3" height="5"/><rect x="311" y="317" width="3" height="6"/><rect x="315.25" y="317.5" width="3" height="5"/><rect x="319.5" y="316" width="3" height="8"/><rect x="323.75" y="315.5" width="3" height="9"/><rect x="328" y="316" width="3" height="8"/><rect x="332.25" y="315" width="3" height="10"/><rect x="336.5" y="315.5" width="3" height="9"/></g><path d="M427,166 C431,171 432,175 435.5,175 C440,175 441,171 440.5,167" stroke="#3a6e9f" stroke-width="3.2" fill="none"/><ellipse cx="417" cy="161.5" rx="11.5" ry="8.8" fill="#7aa4c9" stroke="#3a6e9f" stroke-width="3.4" transform="rotate(15 417 161.5)"/><g fill="#555"><rect x="394.5" y="150" width="3" height="4"/><rect x="399" y="149.5" width="3" height="5"/><rect x="403.5" y="149" width="3" height="6"/><rect x="408" y="149.5" width="3" height="5"/><rect x="412.5" y="148" width="3" height="8"/><rect x="417" y="147.5" width="3" height="9"/><rect x="421.5" y="148" width="3" height="8"/><rect x="426" y="147" width="3" height="10"/><rect x="430.5" y="147.5" width="3" height="9"/></g><g fill="#555"><rect x="360.5" y="399" width="3" height="4"/><rect x="364.75" y="398.5" width="3" height="5"/><rect x="369" y="398" width="3" height="6"/><rect x="373.25" y="398.5" width="3" height="5"/><rect x="377.5" y="397" width="3" height="8"/><rect x="381.75" y="396.5" width="3" height="9"/><rect x="386" y="397" width="3" height="8"/><rect x="390.25" y="396" width="3" height="10"/><rect x="394.5" y="396.5" width="3" height="9"/></g><path d="M377.3,354.5 L392.71,350.68" stroke="#111" stroke-width="3.8"/><path d="M399.5,349 L392.82,355.29 L390.65,346.56 Z" fill="#111"/><path d="M371,364.4 L376.37,378.93" stroke="#111" stroke-width="3.8"/><path d="M378.8,385.5 L371.81,379.56 L380.25,376.44 Z" fill="#111"/><path d="M467,188 L477.63,193.32" stroke="#111" stroke-width="3.4"/><path d="M483,196 L474.95,196.45 L478.53,189.29 Z" fill="#111"/><path d="M735.6,287.8 L751.19,312.43" stroke="#111" stroke-width="2.8"/><path d="M754.4,317.5 L747.49,313.59 L753.82,309.58 Z" fill="#111"/><path d="M637,162.5 L672,141.7 M645.75,157.3 L647.18,159.71 M654.5,152.1 L655.93,154.51 M663.25,146.9 L664.68,149.31" stroke="#2b2b2b" stroke-width="3.2" fill="none"/><path d="M657.8,197.7 L693,178 M666.6,192.77 L665.23,190.33 M675.4,187.85 L674.03,185.41 M684.2,182.93 L682.83,180.48" stroke="#2b2b2b" stroke-width="3.2" fill="none"/><rect x="-15.5" y="-3.3" width="31" height="6.6" transform="translate(654.5 173.7) rotate(59)" fill="#e0664c"/><rect x="-15.5" y="-3.3" width="31" height="6.6" transform="translate(664.7 168.2) rotate(59)" fill="#e0664c"/><rect x="-15.5" y="-3.3" width="31" height="6.6" transform="translate(674.9 162.7) rotate(59)" fill="#e0664c"/><path d="M668.2,218.5 L703.4,199 M677,213.62 L678.36,216.07 M685.8,208.75 L687.16,211.2 M694.6,203.88 L695.96,206.32" stroke="#2b2b2b" stroke-width="3.2" fill="none"/><path d="M687.7,251 L722.9,231.5 M696.5,246.12 L695.14,243.68 M705.3,241.25 L703.94,238.8 M714.1,236.38 L712.74,233.93" stroke="#2b2b2b" stroke-width="3.2" fill="none"/><rect x="-13" y="-3" width="26" height="6" transform="translate(683.3 231.3) rotate(70)" fill="#e0664c"/><rect x="-13" y="-3" width="26" height="6" transform="translate(694.3 224.5) rotate(70)" fill="#e0664c"/><rect x="-13" y="-3" width="26" height="6" transform="translate(705.3 217.7) rotate(70)" fill="#e0664c"/><path d="M699.4,269.3 L734.6,249.8 M708.2,264.43 L709.56,266.87 M717,259.55 L718.36,262 M725.8,254.68 L727.16,257.12" stroke="#2b2b2b" stroke-width="3.2" fill="none"/><path d="M708.6,286.2 L743.7,266.7 M717.38,281.32 L716.02,278.88 M726.15,276.45 L724.79,274 M734.93,271.57 L733.57,269.13" stroke="#2b2b2b" stroke-width="3.2" fill="none"/><rect x="-14.5" y="-3" width="29" height="6" transform="translate(721.5 267.8) rotate(-29)" fill="#e0664c"/><rect x="-6" y="-3.25" width="12" height="6.5" transform="translate(771.38 345.24) rotate(33)" fill="#e0664c"/><rect x="-6" y="-3.25" width="12" height="6.5" transform="translate(789.55 406.79) rotate(33)" fill="#e0664c"/><polyline points="768.45,334.69 784.86,345.83 776.65,359.31 783.69,364 768.45,386.27 752.03,375.13 754.96,370.45 770.21,367.51 768.45,354.03 760.24,355.21 761.41,364 752.03,365.17 750.28,351.1" fill="none" stroke="#2b2b2b" stroke-width="3.2" stroke-linejoin="miter" stroke-linecap="square"/><polyline points="791.31,417.34 775.48,406.2 783.69,393.31 776.65,388.03 793.07,366.34 808.89,376.89 805.96,381.58 790.13,383.93 791.89,399.17 800.1,398 798.93,388.62 807.72,387.44 810.06,401.51" fill="none" stroke="#2b2b2b" stroke-width="3.2" stroke-linejoin="miter" stroke-linecap="square"/><path d="M786.4,442.8 L821.6,422.9 M795.2,437.82 L796.38,439.91 M804,432.85 L805.18,434.94 M812.8,427.88 L813.98,429.96" stroke="#2b2b2b" stroke-width="3" fill="none"/><path d="M806.3,476.7 L840.9,456.3 M814.95,471.6 L813.73,469.53 M823.6,466.5 L822.38,464.43 M832.25,461.4 L831.03,459.33" stroke="#2b2b2b" stroke-width="3" fill="none"/><rect x="-14" y="-3.3" width="28" height="6.6" transform="translate(801.7 456.5) rotate(-72)" fill="#e0664c"/><rect x="-14" y="-3.3" width="28" height="6.6" transform="translate(812.2 450.4) rotate(-72)" fill="#e0664c"/><rect x="-14" y="-3.3" width="28" height="6.6" transform="translate(824.1 444.2) rotate(-72)" fill="#e0664c"/><g id="texts"><text x="57.3" y="256" font-size="22.8" font-weight="bold" fill="#111" textLength="135.5" lengthAdjust="spacingAndGlyphs">Dr. Cong Liu,</text><text x="101.5" y="286.6" font-size="23" font-weight="bold" fill="#111" textLength="52.5" lengthAdjust="spacingAndGlyphs">SIOC</text><text x="42.5" y="340.6" font-size="23" font-weight="bold" fill="#336597" textLength="162.8" lengthAdjust="spacingAndGlyphs">α-Syn Inhibitor</text><text x="76.2" y="371.3" font-size="13.7" font-weight="bold" fill="#111" textLength="74" lengthAdjust="spacingAndGlyphs">GSD-16-24</text><text x="53" y="399.4" font-size="11.2" font-weight="normal" fill="#111" stroke="#111" stroke-width="0.45" textLength="57" lengthAdjust="spacingAndGlyphs">Extracellur</text><text x="53" y="409.6" font-size="11.2" font-weight="normal" fill="#111" stroke="#111" stroke-width="0.45" textLength="33.8" lengthAdjust="spacingAndGlyphs">matrix</text><text x="52.8" y="466.4" font-size="12" font-weight="normal" fill="#111" stroke="#111" stroke-width="0.45" textLength="40.5" lengthAdjust="spacingAndGlyphs">Neuron</text><text x="36" y="492.2" font-size="22.7" font-weight="bold" fill="#336597" textLength="177" lengthAdjust="spacingAndGlyphs">Disease Therapy</text><text x="951.3" y="352.2" font-size="23.5" font-weight="bold" fill="#336597" textLength="178.6" lengthAdjust="spacingAndGlyphs">α-Syn PET Tracer</text><text x="946.3" y="492" font-size="23" font-weight="bold" fill="#336597" textLength="194" lengthAdjust="spacingAndGlyphs">Disease Diagnosis</text><text x="500.4" y="713.5" font-size="22.5" font-weight="bold" fill="#111" textLength="183.5" lengthAdjust="spacingAndGlyphs">Atomic Structure</text><text x="585.5" y="528" font-size="14.8" font-weight="bold" fill="#111" textLength="143.5" lengthAdjust="spacingAndGlyphs">Polymorphic Structure</text><text x="492.3" y="594.8" font-size="13" font-weight="bold" fill="#111" textLength="53.3" lengthAdjust="spacingAndGlyphs">Mutation</text><text x="496.5" y="620.6" font-size="13" font-weight="bold" fill="#111" textLength="43.2" lengthAdjust="spacingAndGlyphs">or PTM</text><text x="523.4" y="400.3" font-size="20.8" font-weight="bold" fill="#111" textLength="122" lengthAdjust="spacingAndGlyphs">α-Syn Fibril</text></g><g id="rtexts"><text transform="translate(330.4 244.5) rotate(-59.5)" x="0" y="0" font-size="22.7" font-weight="bold" fill="#111" text-anchor="middle" textLength="257" lengthAdjust="spacingAndGlyphs">Pathological Mechanism</text><text transform="translate(449 177) rotate(-60)" x="0" y="4.47" font-size="13" font-weight="bold" fill="#111" text-anchor="middle" textLength="158" lengthAdjust="spacingAndGlyphs">Pre-autophagosomal structure</text><text transform="translate(489 198) rotate(-60)" x="0" y="4.13" font-size="12" font-weight="normal" fill="#4a4a4a" text-anchor="middle" textLength="76" lengthAdjust="spacingAndGlyphs">Impairment of</text><text transform="translate(501.7 205) rotate(-60)" x="0" y="4.13" font-size="12" font-weight="normal" fill="#4a4a4a" text-anchor="middle" textLength="144" lengthAdjust="spacingAndGlyphs">Autophagosome Formation</text><text transform="translate(527 221.5) rotate(-60)" x="0" y="5.16" font-size="15" font-weight="bold" fill="#111" text-anchor="middle" textLength="58" lengthAdjust="spacingAndGlyphs">Impaired</text><text transform="translate(541 227.4) rotate(-60)" x="0" y="5.16" font-size="15" font-weight="bold" fill="#111" text-anchor="middle" textLength="80" lengthAdjust="spacingAndGlyphs">Proteostasis</text><text transform="translate(291.3 375.3) rotate(-60)" x="0" y="3.78" font-size="11" font-weight="bold" fill="#111" text-anchor="middle" textLength="55" lengthAdjust="spacingAndGlyphs">Extracellur</text><text transform="translate(302.3 382.6) rotate(-60)" x="0" y="3.78" font-size="11" font-weight="bold" fill="#111" text-anchor="middle" textLength="32" lengthAdjust="spacingAndGlyphs">matrix</text><text transform="translate(349 408.7) rotate(-60)" x="0" y="4.13" font-size="12" font-weight="bold" fill="#111" text-anchor="middle" textLength="39" lengthAdjust="spacingAndGlyphs">Neuron</text><text transform="translate(369 412) rotate(-60)" x="0" y="4.13" font-size="12" font-weight="normal" fill="#4a4a4a" text-anchor="middle" textLength="58" lengthAdjust="spacingAndGlyphs">Spreading to</text><text transform="translate(381.5 418) rotate(-60)" x="0" y="4.13" font-size="12" font-weight="normal" fill="#4a4a4a" text-anchor="middle" textLength="76" lengthAdjust="spacingAndGlyphs">Other Neurons</text><text transform="translate(404.4 433.7) rotate(-60)" x="0" y="5.16" font-size="15" font-weight="bold" fill="#111" text-anchor="middle" textLength="72" lengthAdjust="spacingAndGlyphs">Cell-to-cell</text><text transform="translate(417 440) rotate(-60)" x="0" y="5.16" font-size="15" font-weight="bold" fill="#111" text-anchor="middle" textLength="84" lengthAdjust="spacingAndGlyphs">Transmission</text><text transform="translate(407.4 307.4) rotate(-60)" x="0" y="4.13" font-size="12" font-weight="bold" fill="#111" text-anchor="middle" textLength="47" lengthAdjust="spacingAndGlyphs">Microglia</text><text transform="translate(422.9 324.7) rotate(-60)" x="0" y="4.13" font-size="12" font-weight="normal" fill="#4a4a4a" text-anchor="middle" textLength="47" lengthAdjust="spacingAndGlyphs">Microglia</text><text transform="translate(434.2 331.5) rotate(-60)" x="0" y="4.13" font-size="12" font-weight="normal" fill="#4a4a4a" text-anchor="middle" textLength="50" lengthAdjust="spacingAndGlyphs">Activation</text><text transform="translate(457.5 340) rotate(-60)" x="0" y="5.16" font-size="15" font-weight="bold" fill="#111" text-anchor="middle" textLength="54" lengthAdjust="spacingAndGlyphs">Neuron-</text><text transform="translate(470 348) rotate(-60)" x="0" y="5.16" font-size="15" font-weight="bold" fill="#111" text-anchor="middle" textLength="90" lengthAdjust="spacingAndGlyphs">inflammation</text><text transform="translate(853.5 241) rotate(60)" x="0" y="8.26" font-size="24" font-weight="normal" fill="#111" stroke="#111" stroke-width="0.6" text-anchor="middle" textLength="238" lengthAdjust="spacingAndGlyphs">Chemical Intervention</text><text transform="translate(750.3 182.7) rotate(60)" x="0" y="5.16" font-size="15" font-weight="normal" fill="#111" stroke="#111" stroke-width="0.35" text-anchor="middle" textLength="152" lengthAdjust="spacingAndGlyphs">Binding Mechanism of</text><text transform="translate(737.3 189.2) rotate(60)" x="0" y="5.16" font-size="15" font-weight="normal" fill="#111" stroke="#111" stroke-width="0.35" text-anchor="middle" textLength="109" lengthAdjust="spacingAndGlyphs">Chemical ligand</text><text transform="translate(857.5 372.2) rotate(60)" x="0" y="5.16" font-size="15" font-weight="bold" fill="#111" text-anchor="middle" textLength="122" lengthAdjust="spacingAndGlyphs">Rational Design of</text><text transform="translate(843.4 381.6) rotate(60)" x="0" y="5.16" font-size="15" font-weight="bold" fill="#111" text-anchor="middle" textLength="100" lengthAdjust="spacingAndGlyphs">Amyloid Tracer</text><text transform="translate(845.7 427) rotate(60)" x="0" y="4.13" font-size="12" font-weight="normal" fill="#333" text-anchor="middle" textLength="65" lengthAdjust="spacingAndGlyphs">Sideview of</text><text transform="translate(838.75 433) rotate(60)" x="0" y="4.13" font-size="12" font-weight="normal" fill="#333" text-anchor="middle" textLength="60" lengthAdjust="spacingAndGlyphs">Binding Site</text></g></g>
</svg>
</body></html>
